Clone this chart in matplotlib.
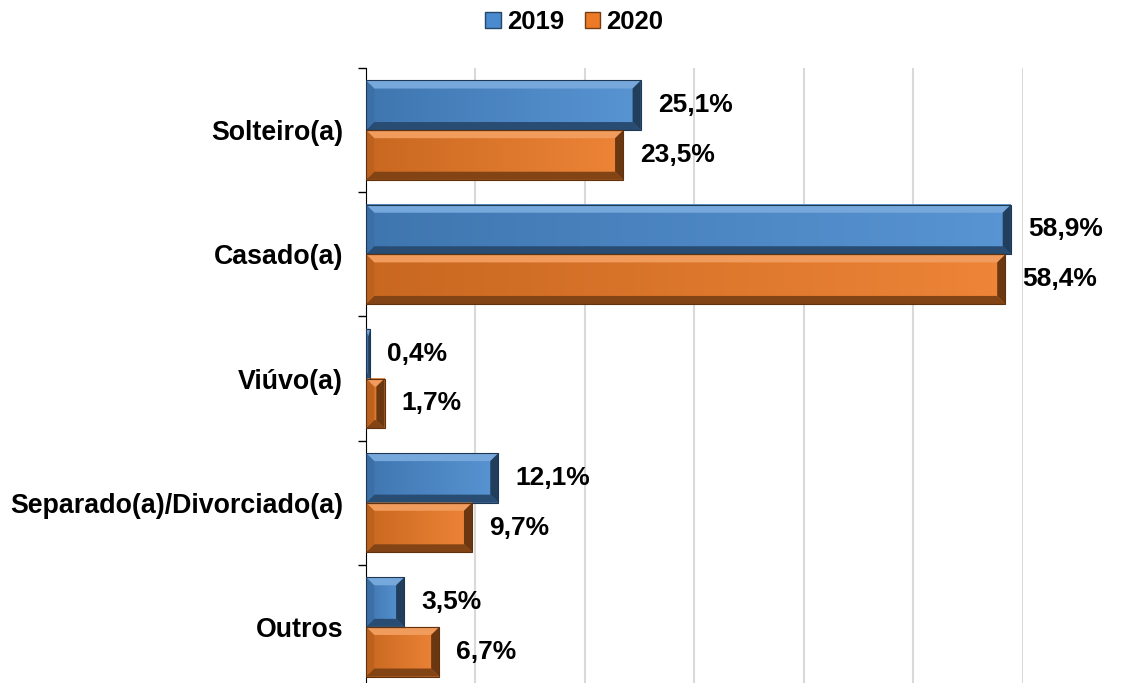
import matplotlib.pyplot as plt
import numpy as np
from matplotlib.patches import Polygon, Patch
from matplotlib.colors import to_rgb

plt.rcParams['font.family'] = ['Liberation Sans', 'DejaVu Sans']

categories = ['Solteiro(a)', 'Casado(a)', 'Viúvo(a)', 'Separado(a)/Divorciado(a)', 'Outros']
values_2019 = [25.1, 58.9, 0.4, 12.1, 3.5]
values_2020 = [23.5, 58.4, 1.7, 9.7, 6.7]
years = ['2019', '2020']

blue = '#4a8bcf'
orange = '#ec7a26'


def shade(color, f):
    c = np.array(to_rgb(color))
    if f > 0:
        return tuple(c + (1 - c) * f)
    return tuple(c * (1 + f))


def bevel_bar(ax, y0, h, w, color):
    # bevel size in data units (about 8 px)
    bx = min(0.75, w / 2)
    by = min(0.065, h / 2)
    # body with horizontal gradient
    grad = np.linspace(0, 1, 64).reshape(1, -1)
    c0 = np.array(shade(color, -0.15))
    c1 = np.array(shade(color, 0.08))
    img = c0 + (c1 - c0) * grad[..., None]
    ax.imshow(img, extent=(0, w, y0, y0 + h), aspect='auto', zorder=2,
              interpolation='bilinear')
    x0, x1, ya, yb = 0, w, y0, y0 + h
    # y axis is inverted: ya is visually top
    top = [(x0, ya), (x1, ya), (x1 - bx, ya + by), (x0 + bx, ya + by)]
    bot = [(x0, yb), (x1, yb), (x1 - bx, yb - by), (x0 + bx, yb - by)]
    left = [(x0, ya), (x0 + bx, ya + by), (x0 + bx, yb - by), (x0, yb)]
    right = [(x1, ya), (x1 - bx, ya + by), (x1 - bx, yb - by), (x1, yb)]
    ax.add_patch(Polygon(top, closed=True, fc=shade(color, 0.25), ec='none', zorder=3))
    ax.add_patch(Polygon(bot, closed=True, fc=shade(color, -0.45), ec='none', zorder=3))
    ax.add_patch(Polygon(left, closed=True, fc=shade(color, -0.2), ec='none', zorder=3))
    ax.add_patch(Polygon(right, closed=True, fc=shade(color, -0.55), ec='none', zorder=3))
    ax.add_patch(plt.Rectangle((x0, ya), w, h, fill=False, ec=shade(color, -0.6), lw=0.8, zorder=4))


fig = plt.figure(figsize=(11.24, 6.83), dpi=100)
ax = fig.add_axes([0.3256, -0.0088, 0.5845, 0.9092])

n = len(categories)
y = np.arange(n)
bh = 0.4
for i in range(n):
    bevel_bar(ax, y[i] - bh, bh, values_2019[i], blue)
    bevel_bar(ax, y[i], bh, values_2020[i], orange)
    ax.text(values_2019[i] + 1.55, y[i] - bh / 2, f'{values_2019[i]:.1f}%'.replace('.', ','),
            va='center', ha='left', fontsize=19, fontweight='bold')
    ax.text(values_2020[i] + 1.55, y[i] + bh / 2, f'{values_2020[i]:.1f}%'.replace('.', ','),
            va='center', ha='left', fontsize=19, fontweight='bold')

ax.set_xlim(0, 60)
ax.set_ylim(n - 0.5, -0.5)
ax.set_xticks(np.arange(0, 61, 10))
ax.xaxis.grid(True, color='#d9d9d9', lw=1.5)
ax.set_axisbelow(True)
ax.tick_params(axis='x', length=0, labelbottom=False)
ax.set_yticks(y)
ax.set_yticklabels(categories, fontsize=19.3, fontweight='bold')
ax.tick_params(axis='y', length=0, pad=16.5)
ax.set_yticks(np.arange(-0.5, n, 1), minor=True)
ax.tick_params(axis='y', which='minor', length=6, width=1)
for s in ['top', 'right', 'bottom']:
    ax.spines[s].set_visible(False)
ax.spines['left'].set_color('black')

handles = [Patch(fc=blue, ec=shade(blue, -0.5)), Patch(fc=orange, ec=shade(orange, -0.5))]
fig.legend(handles, years, loc='upper center', bbox_to_anchor=(0.511, 1.019), ncol=2,
           frameon=False, prop={'weight': 'bold', 'size': 18.5},
           handlelength=0.6, handleheight=0.6, handletextpad=0.25, columnspacing=0.8)

fig.savefig('out.png', dpi=100)
